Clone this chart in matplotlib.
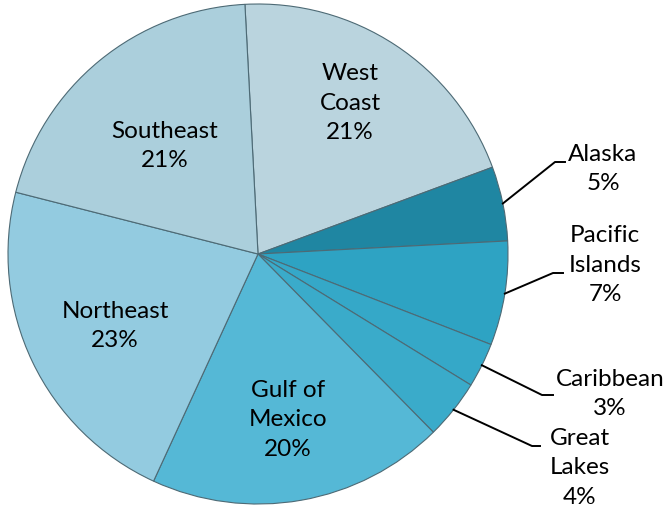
import numpy as np
import matplotlib
matplotlib.use("Agg")
from matplotlib import pyplot as plt

plt.rcParams['font.family'] = ['Lato', 'DejaVu Sans']

# Regions clockwise from the top
regions = ["West\nCoast", "Alaska", "Pacific\nIslands", "Caribbean",
           "Great\nLakes", "Gulf of\nMexico", "Northeast", "Southeast"]
shares = [21, 5, 7, 3, 4, 20, 23, 21]
colors = ["#bad4de", "#1f86a2", "#2ea3c3", "#35a8c8",
          "#3aabca", "#55b8d6", "#93cbe0", "#abcfdc"]

# label positions in pixel coords (669x508 canvas, y up)
inside = {0: (350, 508 - 103), 5: (288, 508 - 420), 6: (115, 508 - 326), 7: (165, 508 - 146)}
outside = {
    1: ((603, 508 - 169), (555, 508 - 162), (565, 508 - 162)),
    2: ((605, 508 - 265), (553, 508 - 273), (563, 508 - 273)),
    3: ((610, 508 - 394), (542, 508 - 395), (553, 508 - 395)),
    4: ((580, 508 - 468), (532, 508 - 446), (540, 508 - 446)),
}

fig = plt.figure(figsize=(6.69, 5.08), dpi=100)
ax = fig.add_axes([0, 0, 1, 1])

cx, cy, r = 258, 254, 250
wedges, _ = ax.pie(shares, colors=colors, startangle=93, counterclock=False,
                   center=(cx, cy), radius=r, frame=True,
                   wedgeprops=dict(edgecolor="#4d6a75", linewidth=0.8))
ax.set_xlim(0, 669)
ax.set_ylim(0, 508)
ax.set_aspect("equal")
ax.axis("off")

for i, name in enumerate(regions):
    label = "%s\n%d%%" % (name, shares[i])
    if i in inside:
        x, y = inside[i]
    else:
        (x, y), elbow, end = outside[i]
        w = wedges[i]
        mid = np.deg2rad((w.theta1 + w.theta2) / 2)
        px, py = cx + r * np.cos(mid), cy + r * np.sin(mid)
        ax.plot([px, elbow[0], end[0]], [py, elbow[1], end[1]], color="black", lw=1.4)
    ax.text(x, y, label, ha="center", va="center", fontsize=17.5, linespacing=1.5)

fig.savefig("out.png", dpi=100)
